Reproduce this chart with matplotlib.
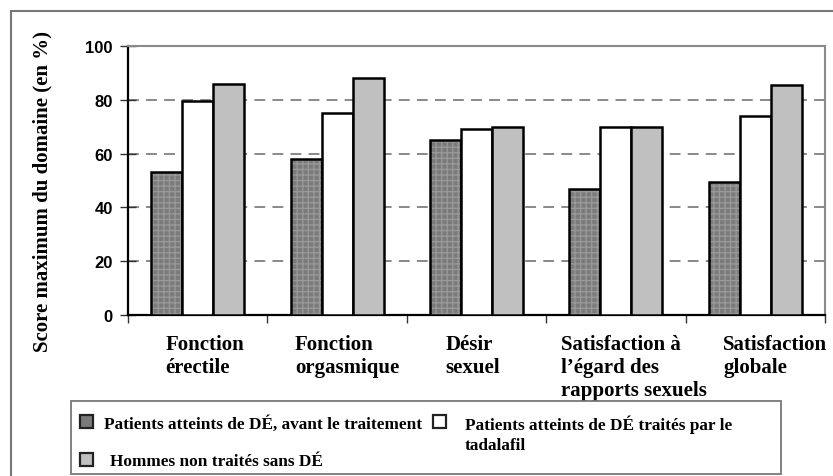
import matplotlib.pyplot as plt
from matplotlib.patches import Rectangle
import numpy as np

# categories and values (%)
categories = ["Fonction\nérectile", "Fonction\norgasmique", "Désir\nsexuel",
              "Satisfaction à\nl’égard des\nrapports sexuels", "Satisfaction\nglobale"]
avant = [53, 58, 65, 47, 49.5]
tadalafil = [79.5, 75, 69, 70, 74]
sans_de = [86, 88, 70, 70, 85.5]
series_labels = ["Patients atteints de DÉ, avant le traitement",
                 "Patients atteints de DÉ traités par le\ntadalafil",
                 "Hommes non traités sans DÉ"]
yticks = [0, 20, 40, 60, 80, 100]

W, H = 833, 477
DARK = "#7b7b7b"
HATCH = "#9a9a9a"
LIGHT = "#c0c0c0"
FRAME = "#777777"
serif = "Liberation Serif"
sans = "Liberation Sans"


def px(x, y):
    # pixel position (from top-left) to figure fraction
    return x / W, 1 - y / H


plt.rcParams["hatch.linewidth"] = 0.9

fig = plt.figure(figsize=(W / 100, H / 100), dpi=100)
ax = fig.add_axes([128 / W, 1 - 316 / H, 697 / W, 269 / H])

x = np.arange(len(categories))
w = 0.222
# dark bars: hatched fill then black outline
ax.bar(x - w, avant, w, color=DARK, edgecolor=HATCH, linewidth=0, hatch="+++", zorder=3)
ax.bar(x - w, avant, w, fill=False, edgecolor="black", linewidth=1.8, zorder=4)
ax.bar(x, tadalafil, w, color="white", edgecolor="black", linewidth=1.8, zorder=4)
ax.bar(x + w, sans_de, w, color=LIGHT, edgecolor="black", linewidth=1.8, zorder=4)

ax.set_xlim(-0.5, len(categories) - 0.5)
ax.set_ylim(0, 100)
ax.set_yticks(yticks)
ax.set_yticklabels([str(t) for t in yticks], fontfamily=sans, fontweight="bold", fontsize=12)
ax.tick_params(axis="y", direction="inout", length=12, width=1, color="#333333", pad=5)

ax.set_xticks(x)
ax.tick_params(axis="x", which="major", length=0, labelbottom=False)
ax.set_xticks(np.arange(-0.5, len(categories), 1), minor=True)
ax.tick_params(axis="x", which="minor", direction="out", length=6, width=1, color="#333333")

# category labels below each group, nudged like in the original
nudges = [7, 10, -4, 18, 20]
for xi, cat, dx in zip(x, categories, nudges):
    ax.annotate(cat, xy=(xi, 0), xytext=(dx, -19), textcoords="offset pixels",
                ha="center", va="top", multialignment="left", fontfamily=serif,
                fontweight="bold", fontsize=15, linespacing=1.2, annotation_clip=False)

ax.yaxis.grid(True, linestyle=(0, (6, 4)), color="#808080", linewidth=1.3)
for t, gl in zip(yticks, ax.get_ygridlines()):
    if t in (0, 100):
        gl.set_visible(False)
ax.set_axisbelow(True)

for s in ("left", "bottom"):
    ax.spines[s].set_color("black")
    ax.spines[s].set_linewidth(1.6)
for s in ("top", "right"):
    ax.spines[s].set_color("#8a8a8a")
    ax.spines[s].set_linewidth(1.5)

ax.set_ylabel("Score maximum du domaine (en %)", fontfamily=serif, fontweight="bold", fontsize=15)
ax.yaxis.set_label_coords(-0.108, 0.463)

# outer frame around the whole figure
fig.add_artist(Rectangle(px(11, 520), 1.0, (520 - 12) / H, transform=fig.transFigure,
                         fill=False, edgecolor=FRAME, linewidth=1.5))

# legend box drawn by hand (two columns, marker on first line)
fig.add_artist(Rectangle(px(71, 475), (781 - 71) / W, (475 - 402) / H, transform=fig.transFigure,
                         fill=False, edgecolor=FRAME, linewidth=1.3))
entries = [(DARK, series_labels[0], 80, 422, 104),
           ("white", series_labels[1], 433, 422, 465),
           (LIGHT, series_labels[2], 80, 460, 110)]
for color, label, mx, my, tx in entries:
    fig.add_artist(Rectangle(px(mx, my + 6.5), 13 / W, 13 / H, transform=fig.transFigure,
                             facecolor=color, edgecolor="#222222", linewidth=1.6))
    fig.text(*px(tx, my - 6), label, ha="left", va="top", fontfamily=serif,
             fontweight="bold", fontsize=12.4, linespacing=1.28)

fig.savefig("out.png", dpi=100)
